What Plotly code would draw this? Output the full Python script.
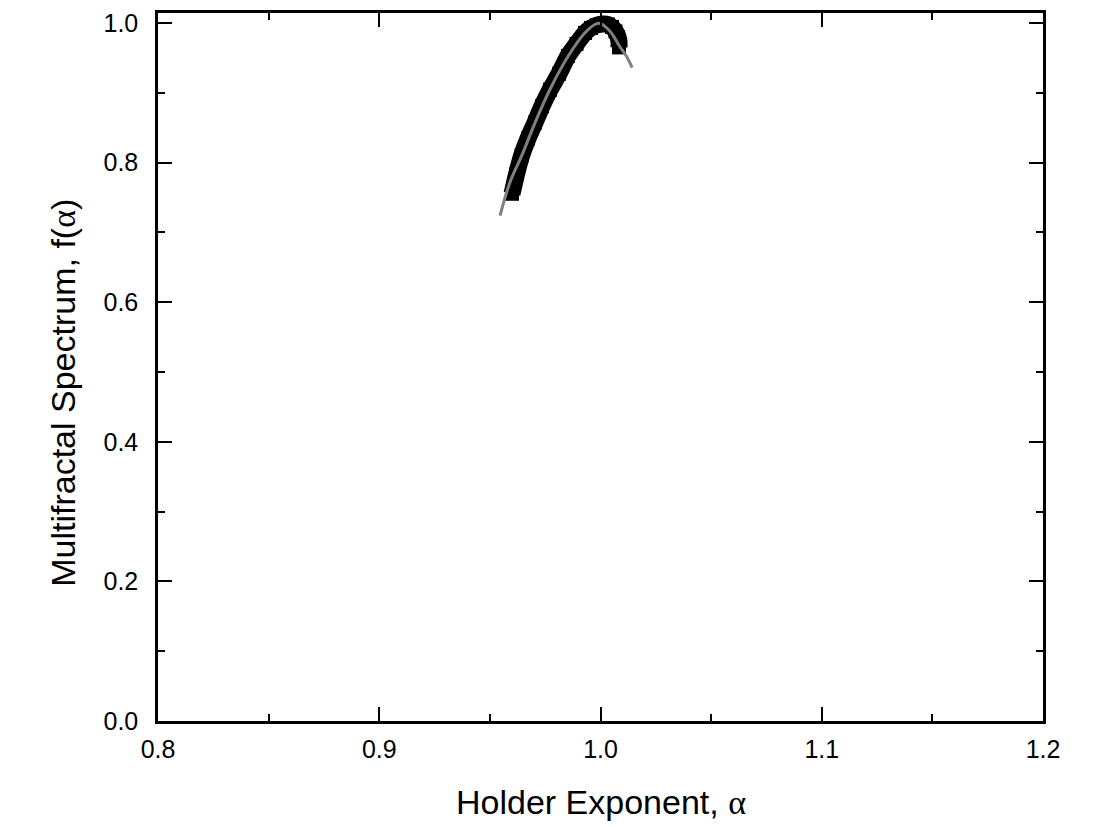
import plotly.graph_objects as go

# measured spectrum points (black squares)
alpha_pts = [0.96000, 0.96203, 0.96438, 0.96723, 0.97040, 0.97356, 0.97718, 0.98124,
             0.98531, 0.98915, 0.99300, 0.99571, 0.99842, 1.00113, 1.00339, 1.00520,
             1.00678, 1.00791, 1.00836, 1.00836]
f_pts = [0.7553, 0.7832, 0.8103, 0.8345, 0.8573, 0.8809, 0.9044, 0.9272,
         0.9529, 0.9700, 0.9857, 0.9929, 0.9971, 0.9986, 0.9979, 0.9943,
         0.9879, 0.9800, 0.9729, 0.9650]

# fitted curve (grey line)
alpha_fit = [0.9546, 0.9591, 0.9644, 0.9704, 0.9772, 0.9855, 0.9930, 0.9983,
             1.0000, 1.0043, 1.0088, 1.0118, 1.0143]
f_fit = [0.724, 0.772, 0.810, 0.857, 0.905, 0.953, 0.986, 0.999,
         0.999, 0.988, 0.966, 0.952, 0.936]

fig = go.Figure()
# dense black squares drawn as a thick band
fig.add_trace(go.Scatter(
    x=alpha_pts, y=f_pts, mode="lines+markers",
    line=dict(color="black", width=17, shape="spline", smoothing=0.6),
    marker=dict(symbol="square", size=14, color="black", line_width=0),
))
fig.add_trace(go.Scatter(
    x=alpha_fit, y=f_fit, mode="lines", line_shape="spline",
    line=dict(color="#808080", width=3),
))

axis_style = dict(
    showline=True, linecolor="black", linewidth=2.5, mirror="ticks",
    ticks="inside", ticklen=14, tickwidth=2, tickcolor="black",
    showgrid=False, zeroline=False,
    tickfont=dict(family="Liberation Sans, Arial", size=25, color="black"),
)
alpha_html = "<span style=\"font-family:'Liberation Serif'\">α</span>"
title_font = dict(family="Liberation Sans, Arial", size=34, color="black")

fig.update_xaxes(
    range=[0.8, 1.2], dtick=0.1, tickformat=".1f",
    minor=dict(ticks="inside", ticklen=7, tickwidth=2, tickcolor="black", dtick=0.05),
    ticklabelstandoff=4,
    **axis_style,
)
fig.update_yaxes(
    range=[0, 1.0143], dtick=0.2, tickformat=".1f",
    minor=dict(ticks="inside", ticklen=7, tickwidth=2, tickcolor="black", dtick=0.1),
    ticklabelstandoff=12,
    **axis_style,
)

# axis titles as annotations so they sit where the original has them
fig.add_annotation(text="Holder Exponent, " + alpha_html, xref="paper", yref="paper",
                   x=0.501, y=-0.114, xanchor="center", yanchor="middle",
                   showarrow=False, font=title_font)
fig.add_annotation(text="Multifractal Spectrum, f(" + alpha_html + ")", xref="paper", yref="paper",
                   x=-0.107, y=0.464, xanchor="center", yanchor="middle", textangle=-90,
                   showarrow=False, font=title_font)

fig.update_layout(
    width=1090, height=815,
    margin=dict(l=150, r=55, t=2, b=102),
    plot_bgcolor="white", paper_bgcolor="white",
    showlegend=False,
)

fig.write_html("out.html")
